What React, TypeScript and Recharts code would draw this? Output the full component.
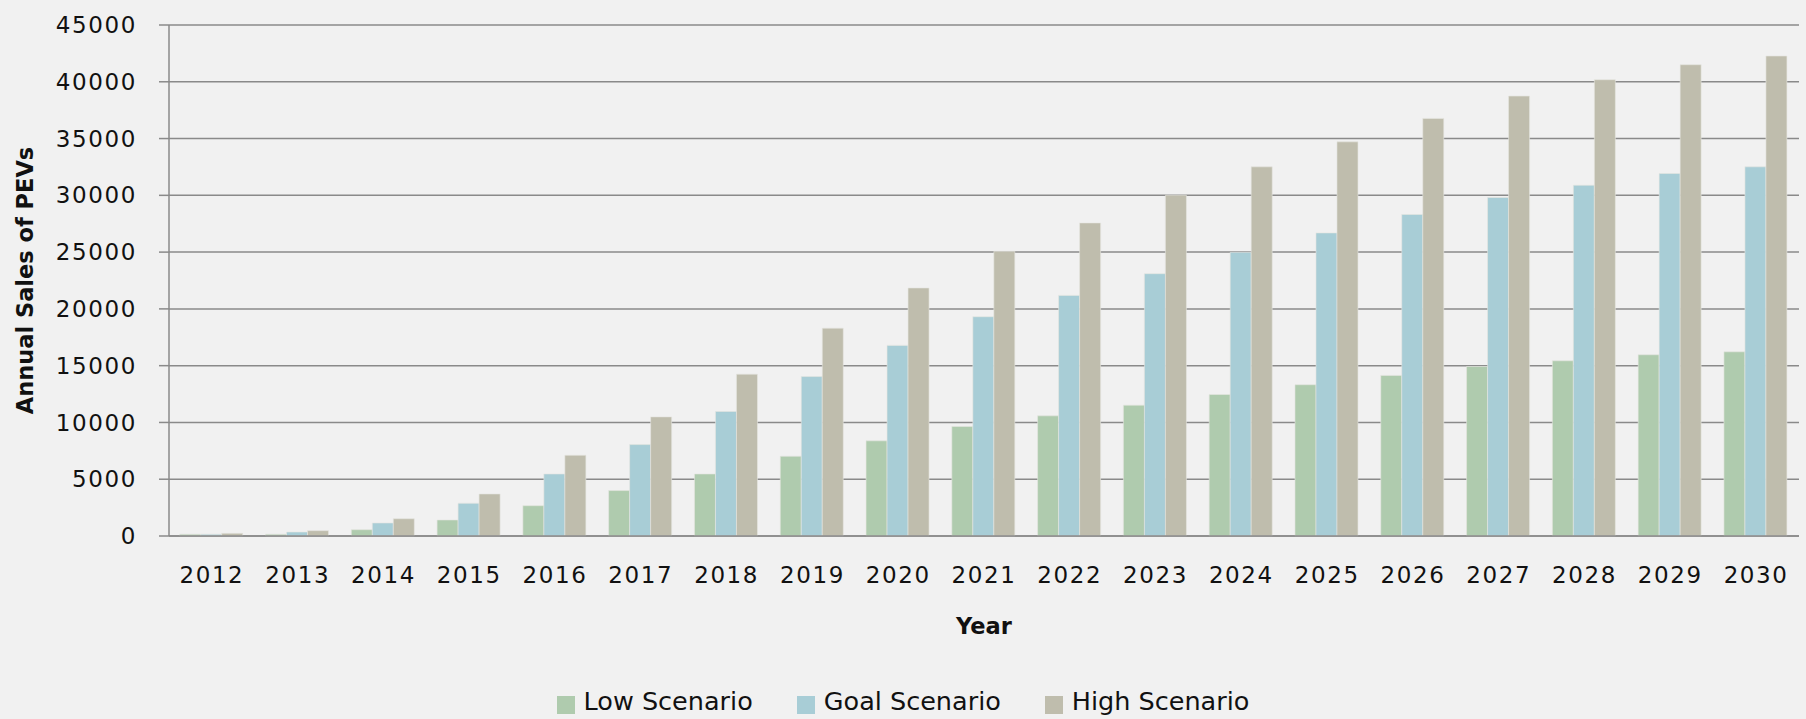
import React from "react";
import {
  Bar,
  BarChart,
  CartesianGrid,
  Legend,
  XAxis,
  YAxis,
} from "recharts";

// chart values
const years = [
  "2012", "2013", "2014", "2015", "2016", "2017", "2018", "2019", "2020", "2021",
  "2022", "2023", "2024", "2025", "2026", "2027", "2028", "2029", "2030",
];
const lowScenario = [
  150, 150, 555, 1410, 2670, 4000, 5460, 7020, 8380, 9640,
  10580, 11520, 12460, 13320, 14140, 14930, 15430, 15960, 16220,
];
const goalScenario = [
  150, 350, 1145, 2880, 5460, 8050, 10960, 14040, 16785, 19310,
  21190, 23100, 24985, 26690, 28310, 29810, 30890, 31920, 32510,
];
const highScenario = [
  240, 470, 1520, 3700, 7110, 10490, 14250, 18300, 21840, 25070,
  27570, 30010, 32510, 34710, 36770, 38740, 40180, 41500, 42270,
];
const yTicks = [0, 5000, 10000, 15000, 20000, 25000, 30000, 35000, 40000, 45000];

const seriesInfo = [
  { key: "low", label: "Low Scenario", color: "#afcbae" },
  { key: "goal", label: "Goal Scenario", color: "#a8cdd6" },
  { key: "high", label: "High Scenario", color: "#bfbdad" },
];

const chartData = years.map((year, i) => ({
  year,
  low: lowScenario[i],
  goal: goalScenario[i],
  high: highScenario[i],
}));

const FONT = "'DejaVu Sans', sans-serif";
const LINE = "#8a8a8a";
const BG = "#f1f1f1";

const LegendContent = () => (
  <div
    style={{
      display: "flex",
      justifyContent: "center",
      alignItems: "center",
      height: 36,
      gap: 44,
      fontFamily: FONT,
    }}
  >
    {seriesInfo.map((s) => (
      <span key={s.key} style={{ display: "flex", alignItems: "center" }}>
        <span
          style={{
            width: 18,
            height: 18,
            background: s.color,
            marginRight: 9,
            marginTop: 8,
          }}
        />
        <span style={{ fontSize: 25.5, color: "#111" }}>{s.label}</span>
      </span>
    ))}
  </div>
);

const App = () => {
  return (
    <div style={{ width: 1806, height: 719, background: BG, fontFamily: FONT }}>
      <style>{`body{margin:0;background:${BG};}`}</style>
      <BarChart
        width={1806}
        height={719}
        data={chartData}
        margin={{ top: 25, right: 7, bottom: 0, left: 0 }}
        barCategoryGap="12.5%"
        barGap={0}
      >
        <CartesianGrid vertical={false} stroke={LINE} strokeWidth={1.5} />
        <XAxis
          dataKey="year"
          interval={0}
          height={147}
          tickLine={false}
          tickSize={6}
          tickMargin={25}
          axisLine={{ stroke: LINE, strokeWidth: 1.5 }}
          tick={{ fill: "#111", fontSize: 23, fontFamily: FONT, letterSpacing: 1.6 }}
          label={{
            value: "Year",
            position: "insideBottom",
            offset: 49,
            style: { fontSize: 22.5, fontWeight: "bold", fill: "#111", fontFamily: FONT },
          }}
        />
        <YAxis
          width={169}
          domain={[0, 45000]}
          ticks={yTicks}
          interval={0}
          tickSize={10}
          tickMargin={22}
          axisLine={{ stroke: LINE, strokeWidth: 1.5 }}
          tickLine={{ stroke: LINE, strokeWidth: 1.5 }}
          tick={{ fill: "#111", fontSize: 23, fontFamily: FONT, letterSpacing: 1.6 }}
          label={{
            value: "Annual Sales of PEVs",
            angle: -90,
            position: "insideLeft",
            offset: 25,
            style: {
              textAnchor: "middle",
              fontSize: 22.5,
              fontWeight: "bold",
              fill: "#111",
              fontFamily: FONT,
            },
          }}
        />
        <Legend
          verticalAlign="bottom"
          align="center"
          content={<LegendContent />}
          wrapperStyle={{ left: 0, width: 1806, bottom: 0 }}
        />
        {seriesInfo.map((s) => (
          <Bar
            key={s.key}
            dataKey={s.key}
            name={s.label}
            fill={s.color}
            stroke="#e6e6e0"
            strokeWidth={0.6}
            isAnimationActive={false}
          />
        ))}
      </BarChart>
    </div>
  );
};

export default App;
